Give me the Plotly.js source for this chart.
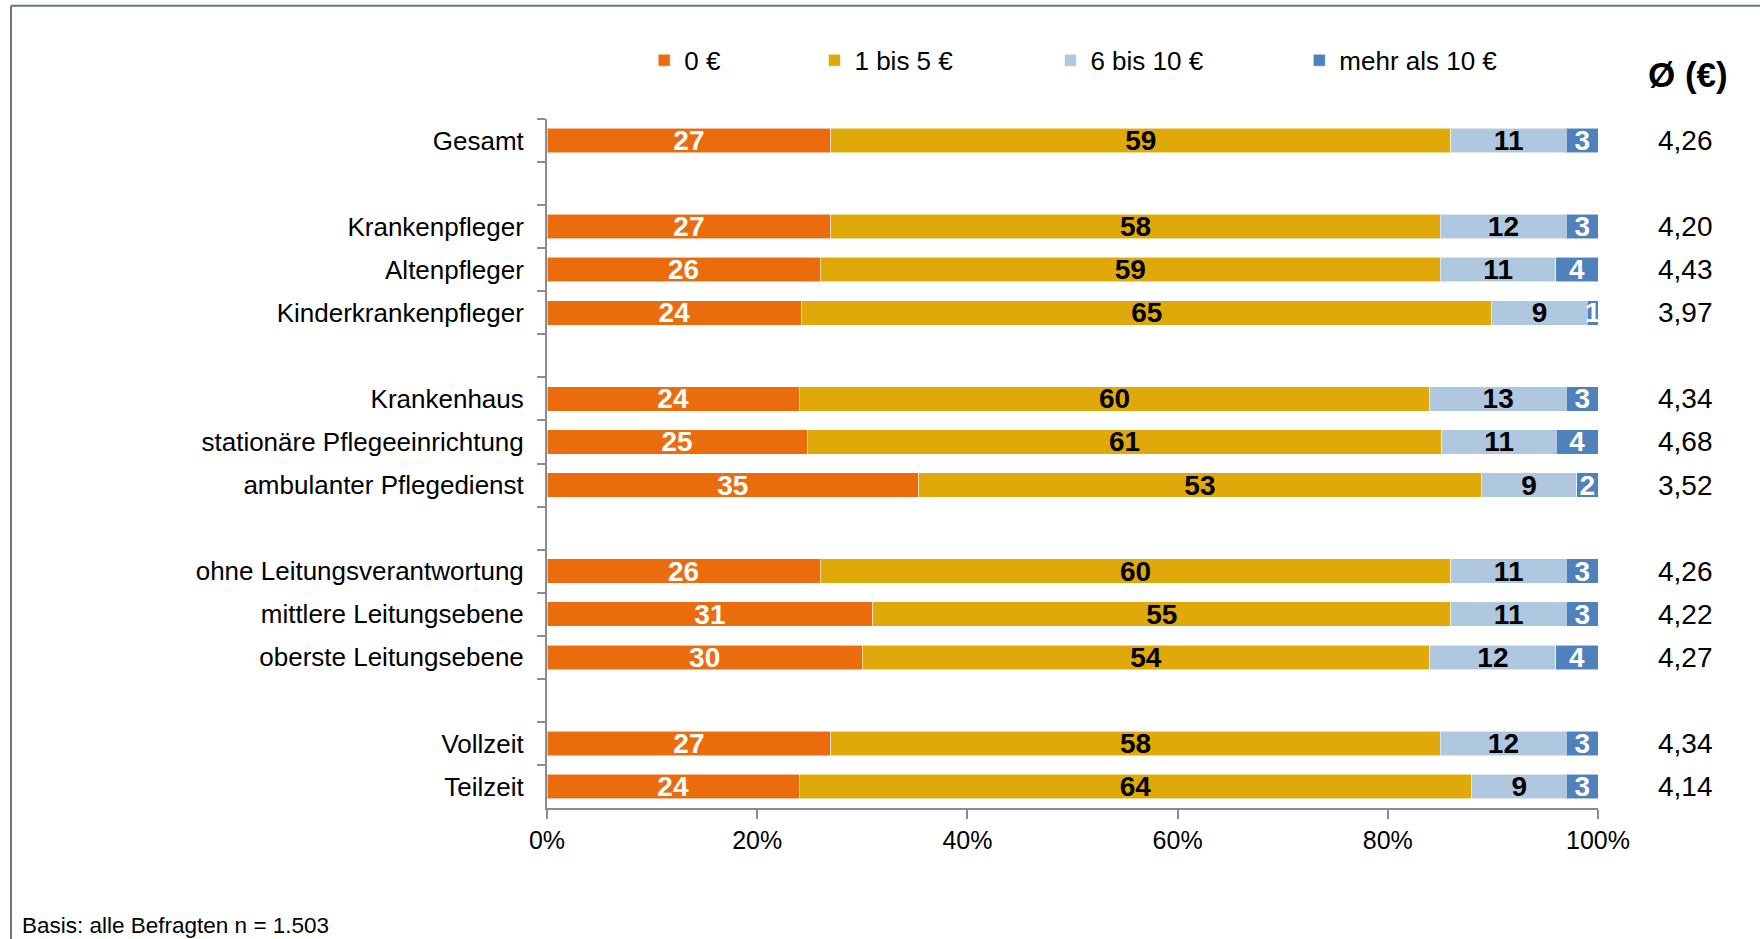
<!DOCTYPE html>
<html>
<head>
<meta charset="utf-8">
<script src="https://cdn.plot.ly/plotly-3.0.1.min.js"></script>
<style>html,body{margin:0;padding:0;background:#fff;}#chart{width:1760px;height:939px;}</style>
</head>
<body>
<div id="chart"></div>
<script>
// Row labels (non-breaking-space entries are the empty spacer rows between groups)
const categories = ['Gesamt', '\u00a0',
  'Krankenpfleger', 'Altenpfleger', 'Kinderkrankenpfleger', '\u00a0\u00a0',
  'Krankenhaus', 'stationäre Pflegeeinrichtung', 'ambulanter Pflegedienst', '\u00a0\u00a0\u00a0',
  'ohne Leitungsverantwortung', 'mittlere Leitungsebene', 'oberste Leitungsebene', '\u00a0\u00a0\u00a0\u00a0',
  'Vollzeit', 'Teilzeit'];

const seriesNames = ['0 €', '1 bis 5 €', '6 bis 10 €', 'mehr als 10 €'];
const val0      = [27, null, 27, 26, 24, null, 24, 25, 35, null, 26, 31, 30, null, 27, 24];
const val1to5   = [59, null, 58, 59, 65, null, 60, 61, 53, null, 60, 55, 54, null, 58, 64];
const val6to10  = [11, null, 12, 11,  9, null, 13, 11,  9, null, 11, 11, 12, null, 12,  9];
const valOver10 = [ 3, null,  3,  4,  1, null,  3,  4,  2, null,  3,  3,  4, null,  3,  3];
const averages  = ['4,26', null, '4,20', '4,43', '3,97', null, '4,34', '4,68', '3,52', null, '4,26', '4,22', '4,27', null, '4,34', '4,14'];
const xTickVals = [0, 20, 40, 60, 80, 100];
const xTickText = ['0%', '20%', '40%', '60%', '80%', '100%'];
const avgHeader = 'Ø (€)';
const footnote = 'Basis: alle Befragten n = 1.503';

const colors = ['#EB6C0C', '#E0A90A', '#AFC8DF', '#4F81BD'];
const textColors = ['#FFFFFF', '#000000', '#000000', '#FFFFFF'];
const seriesValues = [val0, val1to5, val6to10, valOver10];
const legendIds = ['legend', 'legend2', 'legend3', 'legend4'];
const legendX = [0.0925, 0.2545, 0.479, 0.7158];

const FONT = 'Liberation Sans, Arial, Helvetica, sans-serif';

const traces = seriesValues.map((vals, i) => ({
  type: 'bar',
  orientation: 'h',
  name: seriesNames[i],
  y: categories,
  x: vals,
  text: vals.map(v => v === null ? '' : String(v)),
  texttemplate: '%{text}',
  textposition: 'inside',
  insidetextanchor: 'middle',
  textangle: 0,
  cliponaxis: false,
  textfont: {family: FONT, size: 28, color: textColors[i], weight: 'bold'},
  marker: {color: colors[i], line: {color: 'rgba(255,255,255,0.55)', width: 1}},
  hoverinfo: 'name+text',
  legend: legendIds[i]
}));

const annotations = [];
categories.forEach((c, i) => {
  if (averages[i] !== null) {
    annotations.push({
      xref: 'paper', yref: 'y', x: 1.0828, y: c,
      text: averages[i], showarrow: false, xanchor: 'center', yanchor: 'middle',
      font: {family: FONT, size: 28, color: '#000'}
    });
  }
});
annotations.push({
  xref: 'paper', yref: 'paper', x: 1.0856, y: 1.0643,
  text: '<b>' + avgHeader + '</b>', showarrow: false, xanchor: 'center', yanchor: 'middle',
  font: {family: FONT, size: 35, color: '#000'}
});
annotations.push({
  xref: 'paper', yref: 'paper', x: -0.5015, y: -0.170,
  text: footnote, showarrow: false, xanchor: 'left', yanchor: 'middle',
  font: {family: FONT, size: 22.5, color: '#000'}
});

const legendBase = {
  orientation: 'h', y: 1.0852, yanchor: 'middle', xanchor: 'left',
  bgcolor: 'rgba(0,0,0,0)', borderwidth: 0, itemwidth: 30,
  font: {family: FONT, size: 26, color: '#000'}
};

const layout = {
  width: 1760, height: 939, autosize: false,
  margin: {l: 547, r: 162, t: 119, b: 131, pad: 0},
  paper_bgcolor: '#FFFFFF', plot_bgcolor: '#FFFFFF',
  font: {family: FONT, size: 24, color: '#000'},
  barmode: 'stack', barnorm: 'percent', bargap: 0.43,
  uniformtext: {mode: 'show', minsize: 28},
  showlegend: true,
  legend: Object.assign({}, legendBase, {x: legendX[0]}),
  legend2: Object.assign({}, legendBase, {x: legendX[1]}),
  legend3: Object.assign({}, legendBase, {x: legendX[2]}),
  legend4: Object.assign({}, legendBase, {x: legendX[3]}),
  xaxis: {
    range: [0, 100], tickmode: 'array', tickvals: xTickVals, ticktext: xTickText,
    showgrid: false, zeroline: false,
    showline: true, linecolor: '#8C8C8C', linewidth: 2,
    ticks: 'outside', ticklen: 9, tickwidth: 2, tickcolor: '#8C8C8C',
    ticklabelstandoff: 0,
    tickfont: {family: FONT, size: 25, color: '#000'}, fixedrange: true
  },
  yaxis: {
    type: 'category', categoryorder: 'array', categoryarray: categories,
    autorange: 'reversed',
    showgrid: false, zeroline: false,
    showline: true, linecolor: '#8C8C8C', linewidth: 2,
    ticks: 'outside', ticklen: 8, tickwidth: 2, tickcolor: '#8C8C8C',
    tickson: 'boundaries', ticklabelstandoff: 16,
    tickfont: {family: FONT, size: 26, color: '#000'}, fixedrange: true
  },
  annotations: annotations,
  shapes: [
    {type: 'line', xref: 'paper', yref: 'paper', x0: -0.5100, x1: 1.16, y0: 1.1645, y1: 1.1645,
     line: {color: '#6B747C', width: 2}},
    {type: 'line', xref: 'paper', yref: 'paper', x0: -0.5100, x1: -0.5100, y0: 1.1645, y1: -0.2,
     line: {color: '#6B747C', width: 2}}
  ]
};

Plotly.newPlot('chart', traces, layout, {displayModeBar: false, staticPlot: true});
</script>
</body>
</html>
